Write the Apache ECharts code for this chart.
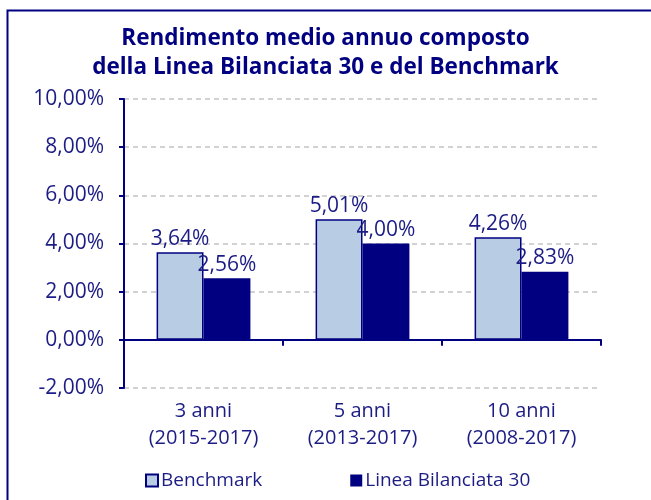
<!DOCTYPE html>
<html><head><meta charset="utf-8">
<script src="https://cdn.jsdelivr.net/npm/echarts@6/dist/echarts.min.js"></script>
<style>html,body{margin:0;padding:0;background:#fff}#c{width:651px;height:500px}</style>
</head><body><div id="c"></div>
<script>
const categories = ['3 anni\n(2015-2017)', '5 anni\n(2013-2017)', '10 anni\n(2008-2017)'];
const benchmark = [3.64, 5.01, 4.26];
const linea = [2.56, 4.00, 2.83];
const seriesNames = ['Benchmark', 'Linea Bilanciata 30'];
const titleText = 'Rendimento medio annuo composto\ndella Linea Bilanciata 30 e del Benchmark';

const navy = '#000080';
const textCol = '#1c1c85';
const fmt = v => v.toFixed(2).replace('.', ',') + '%';
const font = '"Open Sans", "Noto Sans", sans-serif';

const chart = echarts.init(document.getElementById('c'), null, {renderer: 'canvas'});
chart.setOption({
  animation: false,
  textStyle: {fontFamily: font},
  graphic: [{type: 'polyline', shape: {points: [[7.5, 500], [7.5, 10.5], [651, 10.5]]}, style: {stroke: navy, lineWidth: 2, fill: null}}],
  title: {text: titleText, left: 'center', top: 19, textStyle: {fontFamily: font, fontSize: 22.5, fontWeight: 'bold', color: navy, lineHeight: 29}},
  legend: {
    bottom: 5, left: 140, itemGap: 88, itemWidth: 12, itemHeight: 12, icon: 'rect',
    textStyle: {fontFamily: font, fontSize: 19, color: textCol, padding: [0, 0, 0, -2]},
    data: seriesNames
  },
  grid: {left: 124, right: 50, top: 99, bottom: 112, containLabel: false},
  xAxis: [
    {type: 'category', data: categories, axisLine: {onZero: true, lineStyle: {color: navy, width: 2}},
     axisTick: {show: true, length: 6, lineStyle: {color: navy, width: 2}, alignWithLabel: false},
     axisLabel: {show: false}, splitLine: {show: false}},
    {type: 'category', data: categories, position: 'bottom', axisLine: {show: false}, axisTick: {show: false},
     axisLabel: {show: true, color: textCol, fontSize: 20, lineHeight: 27, margin: 10, fontFamily: font}}
  ],
  yAxis: {
    type: 'value', min: -2, max: 10, interval: 2,
    axisLine: {show: true, lineStyle: {color: navy, width: 2}},
    axisTick: {show: true, length: 5, lineStyle: {color: navy, width: 2}},
    axisLabel: {formatter: fmt, color: textCol, fontSize: 21, margin: 20, fontFamily: font},
    splitLine: {show: true, lineStyle: {color: '#c4c4c4', type: [5, 4], width: 1.5}}
  },
  series: [
    {name: seriesNames[0], type: 'bar', data: benchmark, barGap: '0%', barCategoryGap: '41%',
     itemStyle: {color: '#b8cce4', borderColor: navy, borderWidth: 1.5},
     label: {show: true, position: 'top', distance: 3, formatter: p => fmt(p.value), color: textCol, fontSize: 21, fontFamily: font}},
    {name: seriesNames[1], type: 'bar', data: linea,
     itemStyle: {color: navy},
     label: {show: true, position: 'top', distance: 3, formatter: p => fmt(p.value), color: textCol, fontSize: 21, fontFamily: font}}
  ]
});
</script></body></html>
